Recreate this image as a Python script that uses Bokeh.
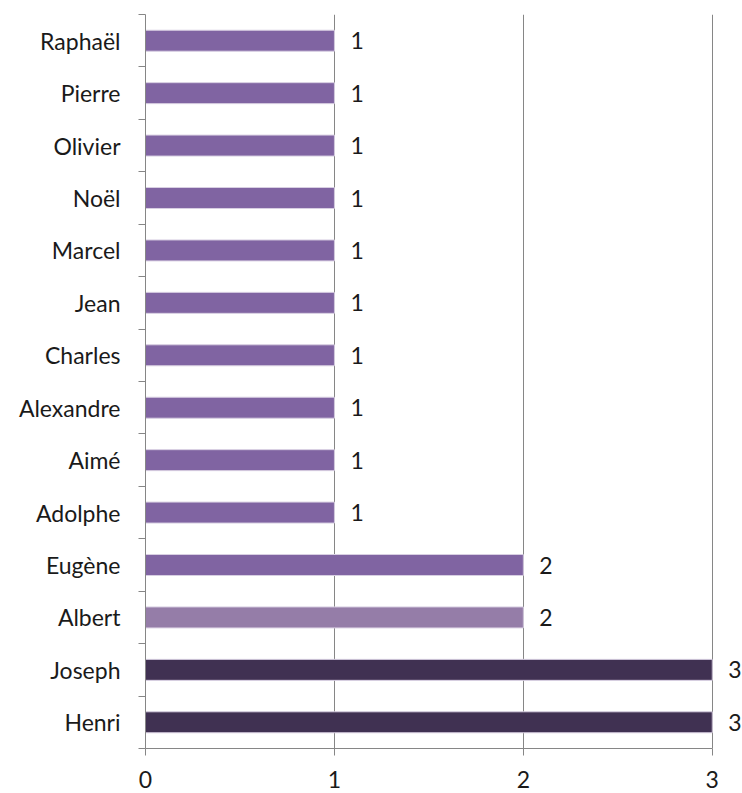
from bokeh.plotting import figure
from bokeh.models import ColumnDataSource, FixedTicker, Range1d
from bokeh.core.properties import value
from bokeh.embed import file_html
from bokeh.resources import INLINE

names = ["Henri", "Joseph", "Albert", "Eugène", "Adolphe", "Aimé", "Alexandre",
         "Charles", "Jean", "Marcel", "Noël", "Olivier", "Pierre", "Raphaël"]
values = [3, 3, 2, 2, 1, 1, 1, 1, 1, 1, 1, 1, 1, 1]
colors = ["#403152", "#403152", "#957DA8", "#8064A2", "#8064A2", "#8064A2", "#8064A2",
          "#8064A2", "#8064A2", "#8064A2", "#8064A2", "#8064A2", "#8064A2", "#8064A2"]
x_ticks = [0, 1, 2, 3]

FONT = "Lato"
FS = "23px"
centers = [i + 0.5 for i in range(len(names))]
bounds = list(range(len(names) + 1))

src = ColumnDataSource(dict(y=centers, v=values, c=colors,
                            lab=[str(v) for v in values]))

p = figure(width=742, height=793, output_backend="svg", toolbar_location=None,
           x_range=Range1d(0, 3.16), y_range=Range1d(0, len(names)),
           min_border_left=145, min_border_right=0, min_border_top=14,
           min_border_bottom=45)
p.outline_line_color = None
p.background_fill_color = "white"

p.hbar(y="y", right="v", left=0, height=0.4, source=src, fill_color="c",
       line_color="#D8CFE2", line_width=1)
p.text(x="v", y="y", text="lab", source=src, x_offset=16, text_align="left",
       text_baseline="middle", text_font_size=FS, text_color="#1a1a1a",
       text_font=value(FONT))

# y axis
ya = p.yaxis[0]
ya.ticker = FixedTicker(ticks=centers, minor_ticks=bounds)
ya.major_label_overrides = {c: n for c, n in zip(centers, names)}
ya.major_tick_out = 0
ya.major_tick_in = 0
ya.minor_tick_out = 7
ya.minor_tick_in = 0
ya.minor_tick_line_color = "#868686"
ya.axis_line_color = "#868686"
ya.major_label_text_font = FONT
ya.major_label_text_font_size = FS
ya.major_label_text_color = "#1a1a1a"
ya.major_label_standoff = 18

# x axis
xa = p.xaxis[0]
xa.bounds = (0, 3)
xa.ticker = FixedTicker(ticks=x_ticks, minor_ticks=[])
xa.major_tick_out = 7
xa.major_tick_in = 0
xa.major_tick_line_color = "#868686"
xa.axis_line_color = "#868686"
xa.major_label_text_font = FONT
xa.major_label_text_font_size = FS
xa.major_label_text_color = "#1a1a1a"
xa.major_label_standoff = 15

p.ygrid.grid_line_color = None
p.xgrid.ticker = FixedTicker(ticks=x_ticks)
p.xgrid.grid_line_color = "#868686"
p.xgrid.grid_line_width = 1

open("out.html", "w").write(file_html(p, INLINE))
